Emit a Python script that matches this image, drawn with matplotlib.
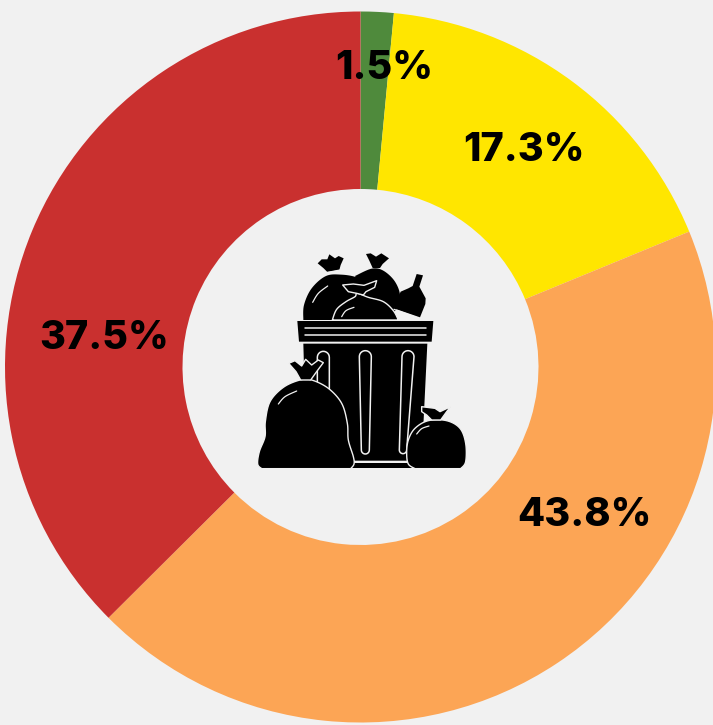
import numpy as np
import matplotlib
matplotlib.use('Agg')
import matplotlib.pyplot as plt
from matplotlib.patches import Polygon

# data
shares = [1.5, 17.3, 43.8, 37.5]
colors = ["#4f8a3c", "#ffe600", "#fca555", "#c9302f"]
labels = ["1.5%", "17.3%", "43.8%", "37.5%"]

BG = "#f1f1f1"
W, H = 713, 725

# label centres in pixels, top left origin
label_pos = [(384, 68), (524, 150), (584, 515), (104, 338)]


def to_px(pts):
    # icon was measured on a 3x crop starting at (240, 240)
    pts = np.array(pts, dtype=float)
    x = 240 + pts[:, 0] / 3
    y = H - (240 + pts[:, 1] / 3)
    return np.column_stack([x, y])


def smooth(pts, n=10):
    # catmull-rom through the given points, open curve
    p = np.array(pts, dtype=float)
    p = np.vstack([p[0], p, p[-1]])
    out = []
    for i in range(1, len(p) - 2):
        for t in np.linspace(0, 1, n, endpoint=False):
            a = 2 * p[i] + (p[i + 1] - p[i - 1]) * t
            b = (2 * p[i - 1] - 5 * p[i] + 4 * p[i + 1] - p[i + 2]) * t ** 2
            c = (3 * p[i] - p[i - 1] - 3 * p[i + 1] + p[i + 2]) * t ** 3
            out.append(0.5 * (a + b + c))
    out.append(p[-2])
    return np.array(out)


def shape(ax, pts, lw=0.0, curved=False, ec=BG):
    # curved: smooth through pts, then closed with a straight line
    xy = smooth(pts) if curved else np.array(pts, dtype=float)
    ax.add_patch(Polygon(to_px(xy), closed=True, fc="black", ec=ec, lw=lw, joinstyle="round", zorder=5))


def stroke(ax, pts, lw=0.9):
    xy = to_px(smooth(pts))
    ax.plot(xy[:, 0], xy[:, 1], color=BG, lw=lw, solid_capstyle="round", zorder=5)


def slot(ax, xt, xb, ytop, ybot, rt, rb):
    a = np.linspace(np.pi, 0, 14)
    top = np.column_stack([xt + rt * np.cos(a), ytop - rt * np.sin(a)])
    bot = np.column_stack([xb - rb * np.cos(a), ybot + rb * np.sin(a)])
    xy = np.vstack([top, bot])
    ax.add_patch(Polygon(to_px(xy), closed=True, fc="black", ec=BG, lw=1.1, zorder=5))


def draw_icon(ax):
    # back bag
    shape(ax, [(345, 108), (395, 86), (430, 92), (465, 125), (480, 170), (462, 215), (400, 215)], curved=True)
    shape(ax, [(398, 84), (388, 62), (378, 42), (392, 40), (408, 50), (424, 40), (447, 55), (428, 72), (420, 84)])
    # bottle
    shape(ax, [(462, 198), (482, 155), (505, 145), (518, 138), (530, 102), (549, 106), (538, 140), (557, 175),
               (556, 192), (540, 232), (470, 208)])
    # left bag
    shape(ax, [(190, 240), (192, 195), (215, 145), (258, 108), (305, 104), (350, 112), (378, 130), (420, 190),
               (440, 240)], curved=True)
    shape(ax, [(262, 96), (250, 84), (233, 70), (245, 58), (262, 58), (268, 43), (285, 55), (296, 48), (311, 55),
               (302, 75), (298, 90)])
    stroke(ax, [(258, 98), (300, 90)])
    stroke(ax, [(218, 187), (235, 160), (263, 138)])
    # front bag
    shape(ax, [(277, 240), (290, 208), (318, 185), (345, 170), (352, 160), (385, 172), (430, 185), (460, 212),
               (475, 240)], lw=1.0, curved=True)
    shape(ax, [(350, 160), (325, 155), (308, 135), (340, 132), (372, 136), (410, 122), (404, 142), (378, 155),
               (370, 165)], lw=1.0)
    stroke(ax, [(305, 230), (318, 212), (342, 202)])
    stroke(ax, [(462, 208), (540, 236)])
    # rim
    shape(ax, [(172, 243), (580, 243), (575, 305), (177, 305)])
    stroke(ax, [(195, 264), (558, 264)], lw=1.1)
    stroke(ax, [(195, 285), (558, 285)], lw=1.1)
    # can
    shape(ax, [(190, 311), (562, 311), (545, 662), (200, 662)])
    shape(ax, [(335, 668), (515, 668), (515, 685), (335, 685)])
    slot(ax, 250, 250, 352, 520, 18, 18)
    slot(ax, 376, 376, 350, 630, 18, 12)
    slot(ax, 504, 489, 350, 630, 18, 11)
    # big bag
    shape(ax, [(65, 686), (53, 672), (58, 635), (75, 590), (76, 545), (90, 485), (130, 442), (180, 420), (215, 420),
               (265, 445), (305, 490), (322, 550), (325, 600), (340, 650), (342, 672), (332, 686)], lw=1.0,
          curved=True)
    shape(ax, [(182, 420), (168, 395), (146, 370), (165, 362), (185, 378), (197, 358), (215, 375), (235, 360),
               (250, 368), (232, 392), (212, 420)], lw=1.0)
    stroke(ax, [(115, 492), (135, 470), (170, 453)])
    # small bag
    shape(ax, [(525, 686), (505, 672), (500, 640), (505, 600), (525, 565), (565, 542), (620, 542), (660, 565),
               (677, 610), (677, 665), (662, 686)], lw=1.0, curved=True)
    shape(ax, [(575, 540), (560, 525), (545, 515), (545, 500), (585, 505), (600, 515), (632, 500), (620, 515),
               (602, 540)], lw=1.0)
    stroke(ax, [(530, 582), (545, 566), (567, 558)])


fig = plt.figure(figsize=(W / 100, H / 100), dpi=100, facecolor=BG)
ax = fig.add_axes([0, 0, 1, 1])

ax.pie(shares, colors=colors, startangle=90, counterclock=False, center=(360.5, H - 367), radius=355.5,
       wedgeprops=dict(width=177.5, linewidth=0), frame=True)
ax.set_xlim(0, W)
ax.set_ylim(0, H)
ax.set_aspect("equal")
ax.axis("off")

draw_icon(ax)

for lab, (x, y) in zip(labels, label_pos):
    ax.text(x, H - y, lab, ha="center", va="center", fontsize=28.5, fontweight=800, family="Inter",
            color="black", zorder=6)

fig.savefig("out.png", dpi=100, facecolor=BG)
